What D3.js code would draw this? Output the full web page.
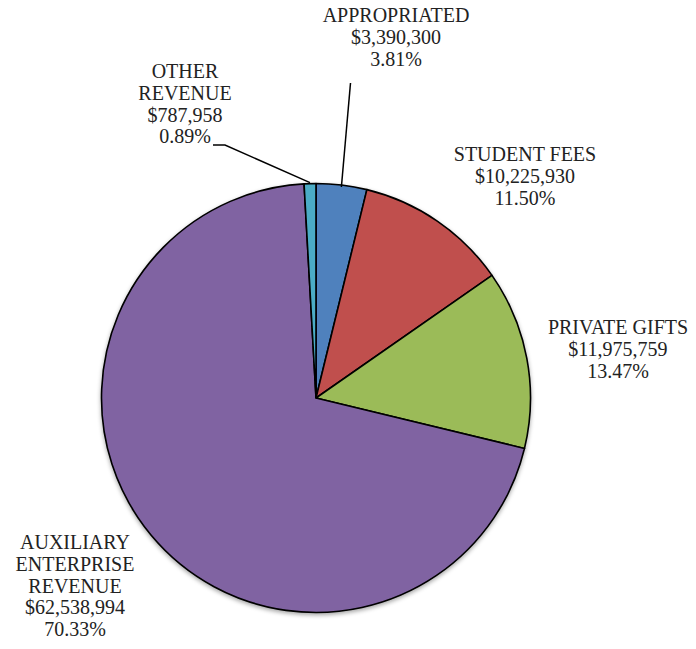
<!DOCTYPE html>
<html>
<head>
<meta charset="utf-8">
<script src="https://cdn.jsdelivr.net/npm/d3@7/dist/d3.min.js"></script>
<style>
  html, body { margin: 0; padding: 0; background: #fff; }
  svg { display: block; }
</style>
</head>
<body>
<svg id="chart" width="696" height="649"></svg>
<script>
// Revenue sources, clockwise from 12 o'clock
const categories = ["APPROPRIATED", "STUDENT FEES", "PRIVATE GIFTS", "AUXILIARY ENTERPRISE REVENUE", "OTHER REVENUE"];
const amounts = [3390300, 10225930, 11975759, 62538994, 787958];
const percentLabels = ["3.81%", "11.50%", "13.47%", "70.33%", "0.89%"];
const colors = ["#4F81BD", "#C0504D", "#9BBB59", "#8064A2", "#4BACC6"];

// label text lines per slice
const labelLines = [
  ["APPROPRIATED"],
  ["STUDENT FEES"],
  ["PRIVATE GIFTS"],
  ["AUXILIARY", "ENTERPRISE", "REVENUE"],
  ["OTHER", "REVENUE"]
];

const svg = d3.select("#chart");
const cx = 316, cy = 398, r = 214.5;

const defs = svg.append("defs");
const f = defs.append("filter").attr("id", "shadow").attr("x", "-10%").attr("y", "-10%").attr("width", "120%").attr("height", "125%");
f.append("feDropShadow").attr("dx", 0).attr("dy", 2).attr("stdDeviation", 2).attr("flood-color", "#000").attr("flood-opacity", 0.35);

const data = categories.map((c, i) => ({ name: c, value: amounts[i], pct: percentLabels[i], color: colors[i], lines: labelLines[i] }));

const pie = d3.pie().value(d => d.value).sort(null);
const arc = d3.arc().innerRadius(0).outerRadius(r);
const arcs = pie(data);

const g = svg.append("g").attr("transform", `translate(${cx},${cy})`);
g.append("g").attr("filter", "url(#shadow)")
  .selectAll("path").data(arcs).join("path")
  .attr("d", arc)
  .attr("fill", d => d.data.color)
  .attr("stroke", "#000")
  .attr("stroke-width", 1.6)
  .attr("stroke-linejoin", "round");

// label placement (center x, first baseline)
const fmt = d3.format("$,");
const labelPos = [
  { x: 396, y: 22 },
  { x: 525, y: 161 },
  { x: 618, y: 334 },
  { x: 75, y: 549 },
  { x: 185, y: 78 }
];
const lineH = 21.8;

const labels = svg.append("g");
arcs.forEach((a, i) => {
  const d = a.data;
  const lines = d.lines.concat([fmt(d.value), d.pct]);
  const t = labels.append("text")
    .attr("text-anchor", "middle")
    .attr("font-family", "'Liberation Serif', 'Times New Roman', serif")
    .attr("font-size", 20)
    .attr("fill", "#222");
  lines.forEach((ln, j) => {
    t.append("tspan").attr("x", labelPos[i].x).attr("y", labelPos[i].y + j * lineH).text(ln);
  });
});

// leader lines from labels to the small top slices
const leader = d3.line();
const midPoint = (a, rr) => {
  const ang = (a.startAngle + a.endAngle) / 2;
  return [cx + rr * Math.sin(ang), cy - rr * Math.cos(ang)];
};
svg.append("path")
  .attr("d", leader([[350.5, 83], midPoint(arcs[0], r - 2)]))
  .attr("fill", "none").attr("stroke", "#000").attr("stroke-width", 1.5);
svg.append("path")
  .attr("d", leader([[213, 145], [225, 145], midPoint(arcs[4], r + 1)]))
  .attr("fill", "none").attr("stroke", "#000").attr("stroke-width", 1.5);
</script>
</body>
</html>
